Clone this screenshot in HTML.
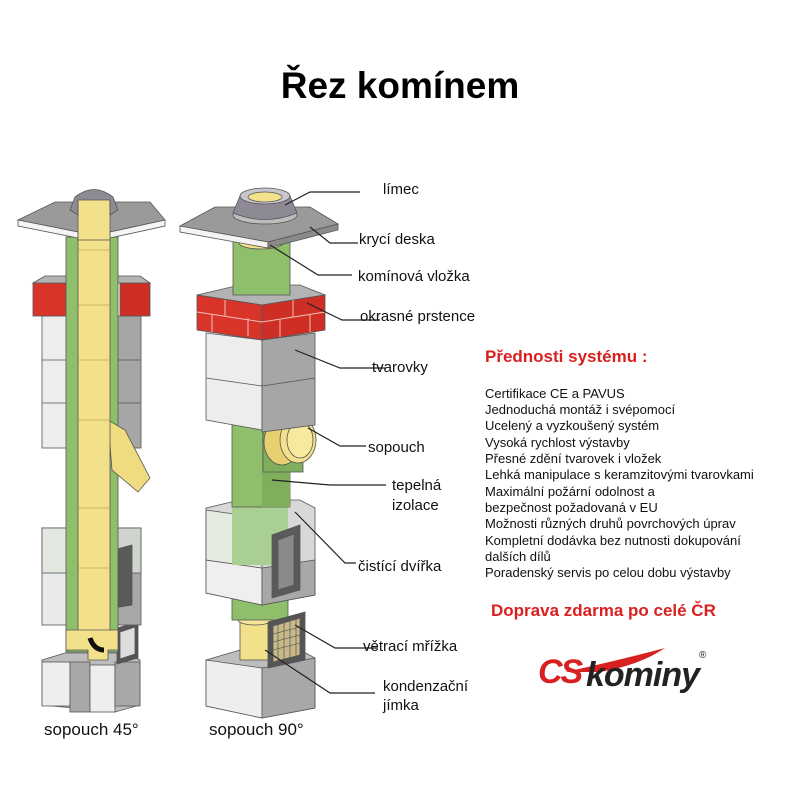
<!DOCTYPE html>
<html><head><meta charset="utf-8"><style>
html,body{margin:0;padding:0;background:#fff;}
svg{display:block;font-family:"Liberation Sans",sans-serif;}
</style></head><body>
<svg width="800" height="800" viewBox="0 0 800 800" xmlns="http://www.w3.org/2000/svg">
<text x="400" y="98" text-anchor="middle" font-size="37" font-weight="bold" fill="#000">Řez komínem</text>

<!-- RIGHT CHIMNEY (90°) -->
<g stroke="#555" stroke-width="0.8">
 <!-- bottom block -->
 <polygon points="206,660 240,650 300,650 315,658 315,708 262,718 206,706" fill="#bdbdbd"/>
 <polygon points="206,660 262,668 262,718 206,706" fill="#eeeeee"/>
 <polygon points="262,668 315,658 315,708 262,718" fill="#a8a8a8"/>
 <!-- condensate cylinder -->
 <rect x="240" y="618" width="30" height="42" fill="#f2e08a"/>
 <ellipse cx="255" cy="620" rx="17" ry="5" fill="#f6e69a"/>
 <!-- green pipe lower -->
 <rect x="232" y="595" width="56" height="25" fill="#8fbf6a"/>
 <!-- grid -->
 <polygon points="268,622 305,612 305,660 268,668" fill="#555"/>
 <polygon points="273,626 300,618 300,655 273,662" fill="#c9b98a"/>
 <g stroke="#444" stroke-width="0.6">
  <line x1="278" y1="624" x2="278" y2="661"/><line x1="284" y1="622" x2="284" y2="660"/><line x1="290" y1="621" x2="290" y2="658"/><line x1="296" y1="619" x2="296" y2="656"/>
  <line x1="273" y1="634" x2="300" y2="627"/><line x1="273" y1="642" x2="300" y2="635"/><line x1="273" y1="650" x2="300" y2="643"/>
 </g>
 <!-- middle block -->
 <polygon points="206,508 240,500 300,500 315,508 315,595 262,605 206,593" fill="#d8d8d8"/>
 <polygon points="206,560 262,568 262,605 206,593" fill="#efefef"/>
 <polygon points="262,568 315,560 315,595 262,605" fill="#a8a8a8"/>
 <polygon points="206,510 262,518 262,568 206,560" fill="#e4ebe0"/>
 <rect x="232" y="505" width="56" height="60" fill="#a9cf92" stroke="none"/>
 <!-- door -->
 <polygon points="272,535 300,525 300,590 272,598" fill="#5a5a5a"/>
 <polygon points="278,540 294,534 294,585 278,590" fill="#8a8a8a"/>
 <!-- green pipe middle -->
 <rect x="232" y="425" width="58" height="82" fill="#8fbf6a"/>
 <rect x="262" y="425" width="28" height="82" fill="#7faf5c" stroke="none"/>
 <!-- sopouch -->
 <rect x="263" y="412" width="40" height="60" fill="#7faf5c"/>
 <ellipse cx="282" cy="442" rx="18" ry="23" fill="#e6d070"/>
 <ellipse cx="298" cy="440" rx="18" ry="23" fill="#f3e089"/>
 <ellipse cx="300" cy="440" rx="13" ry="18" fill="#f7ea9f"/>
 <!-- tvarovky block -->
 <polygon points="206,333 262,340 262,430 206,420" fill="#ededed"/>
 <polygon points="262,340 315,333 315,425 262,432" fill="#a6a6a6"/>
 <line x1="206" y1="378" x2="262" y2="386"/><line x1="262" y1="386" x2="315" y2="378"/>
 <!-- brick band -->
 <polygon points="197,295 240,285 300,285 325,295 262,305" fill="#b3b3b3"/>
 <polygon points="197,295 262,305 262,340 197,330" fill="#d9342a"/>
 <polygon points="262,305 325,295 325,330 262,340" fill="#cf2e24"/>
 <g stroke="#f0c0b8" stroke-width="1">
  <line x1="197" y1="312" x2="262" y2="322"/><line x1="262" y1="322" x2="325" y2="312"/>
  <line x1="225" y1="300" x2="225" y2="316"/><line x1="248" y1="318" x2="248" y2="336"/><line x1="212" y1="314" x2="212" y2="332"/>
  <line x1="293" y1="300" x2="293" y2="317"/><line x1="280" y1="320" x2="280" y2="337"/><line x1="310" y1="315" x2="310" y2="332"/>
 </g>
 <!-- green top -->
 <rect x="233" y="240" width="57" height="55" fill="#8fbf6a"/>
 <ellipse cx="261" cy="243" rx="22" ry="6" fill="#f2e08a"/>
 <!-- slab -->
 <polygon points="180,226 215,207 310,207 338,224 268,242" fill="#9a9a9a"/>
 <polygon points="180,226 268,242 268,248 180,232" fill="#f4f4f4"/>
 <polygon points="268,242 338,224 338,230 268,248" fill="#8a8a8a"/>
 <!-- collar -->
 <ellipse cx="265" cy="215" rx="32" ry="9" fill="#bdbdbd"/>
 <path d="M240,196 L290,196 L297,213 Q265,226 233,213 Z" fill="#8e8a95"/>
 <ellipse cx="265" cy="196" rx="25" ry="8" fill="#c9c5cf"/>
 <ellipse cx="265" cy="197" rx="17" ry="5" fill="#f3e28c"/>
</g>

<!-- LEFT CHIMNEY (45°) -->
<g stroke="#555" stroke-width="0.8">
 <!-- bottom block -->
 <polygon points="42,660 65,653 125,653 140,660 140,705 115,712 42,705" fill="#bdbdbd"/>
 <rect x="42" y="662" width="28" height="44" fill="#eeeeee"/>
 <rect x="70" y="662" width="20" height="50" fill="#a8a8a8"/>
 <rect x="90" y="665" width="25" height="47" fill="#eeeeee"/>
 <rect x="115" y="662" width="25" height="44" fill="#a8a8a8"/>
 <!-- grid -->
 <polygon points="117,628 138,622 138,658 117,664" fill="#555"/>
 <polygon points="120,632 135,627 135,654 120,659" fill="#ddd"/>
 <!-- lower blocks -->
 <rect x="42" y="528" width="31" height="97" fill="#eaeaea"/>
 <rect x="42" y="528" width="31" height="45" fill="#e2e8e0"/>
 <rect x="110" y="528" width="31" height="97" fill="#a8a8a8"/>
 <rect x="110" y="528" width="31" height="45" fill="#d0d4ce"/>
 <polygon points="113,550 132,545 132,605 113,608" fill="#5a5a5a"/>
 <!-- upper blocks -->
 <rect x="42" y="316" width="31" height="132" fill="#ededed"/>
 <line x1="42" y1="360" x2="73" y2="360"/><line x1="42" y1="403" x2="73" y2="403"/>
 <rect x="110" y="316" width="31" height="132" fill="#a6a6a6"/>
 <line x1="110" y1="360" x2="141" y2="360"/><line x1="110" y1="403" x2="141" y2="403"/>
 <!-- bricks -->
 <rect x="33" y="283" width="40" height="33" fill="#d9342a"/>
 <rect x="120" y="283" width="30" height="33" fill="#cf2e24"/>
 <polygon points="33,283 45,276 73,276 73,283" fill="#b3b3b3"/>
 <polygon points="110,276 140,276 150,283 110,283" fill="#b3b3b3"/>
 <!-- green -->
 <rect x="66" y="237" width="52" height="415" fill="#8fbf6a"/>
 <!-- 45° branch -->
 <polygon points="108,420 125,430 150,478 138,492 112,470" fill="#f0dc80"/>
 <!-- yellow liner -->
 <rect x="78" y="195" width="32" height="440" fill="#f3e08a"/>
 <polygon points="66,630 118,630 118,650 108,650 108,660 88,660 88,650 66,650" fill="#f3e08a"/>
 <path d="M90,638 q4,12 14,12" stroke="#111" stroke-width="5" fill="none"/>
 <g stroke="#a09040" stroke-width="0.6">
  <line x1="78" y1="250" x2="110" y2="250"/><line x1="78" y1="305" x2="110" y2="305"/><line x1="78" y1="360" x2="110" y2="360"/><line x1="78" y1="420" x2="110" y2="420"/><line x1="78" y1="508" x2="110" y2="508"/><line x1="78" y1="568" x2="110" y2="568"/>
 </g>
 <!-- slab -->
 <polygon points="18,220 55,202 150,202 165,220 110,232 78,232" fill="#9a9a9a"/>
 <polygon points="18,220 78,232 78,238 18,226" fill="#f4f4f4"/>
 <polygon points="110,232 165,220 165,226 110,238" fill="#f4f4f4"/>
 <rect x="78" y="195" width="32" height="45" fill="#f3e08a"/>
 <path d="M75,197 Q94,182 113,197 L118,210 L110,215 L110,200 L78,200 L78,215 L70,210 Z" fill="#8e8a95"/>
</g>

<!-- Leader lines -->
<g stroke="#222" stroke-width="1.2" fill="none">
 <polyline points="285,205 310,192 360,192"/>
 <polyline points="310,227 330,243 358,243"/>
 <polyline points="270,245 318,275 352,275"/>
 <polyline points="307,303 342,320 380,320"/>
 <polyline points="295,350 340,368 386,368"/>
 <polyline points="308,428 340,446 366,446"/>
 <polyline points="272,480 330,485 386,485"/>
 <polyline points="295,512 345,563 356,563"/>
 <polyline points="295,625 335,648 378,648"/>
 <polyline points="265,650 330,693 375,693"/>
</g>
<g font-size="15" fill="#111">
 <text x="383" y="194">límec</text>
 <text x="359" y="244">krycí deska</text>
 <text x="358" y="281">komínová vložka</text>
 <text x="360" y="321">okrasné prstence</text>
 <text x="372" y="372">tvarovky</text>
 <text x="368" y="452">sopouch</text>
 <text x="392" y="490">tepelná</text>
 <text x="392" y="510">izolace</text>
 <text x="358" y="571">čistící dvířka</text>
 <text x="363" y="651">větrací mřížka</text>
 <text x="383" y="691">kondenzační</text>
 <text x="383" y="710">jímka</text>
 <text x="44" y="735" font-size="17">sopouch 45°</text>
 <text x="209" y="735" font-size="17">sopouch 90°</text>
</g>

<text x="485" y="362" font-size="17" font-weight="bold" fill="#d92020">Přednosti systému :</text>
<g font-size="13" fill="#111">
 <text x="485" y="398">Certifikace CE a PAVUS</text>
 <text x="485" y="414">Jednoduchá montáž i svépomocí</text>
 <text x="485" y="430">Ucelený a vyzkoušený systém</text>
 <text x="485" y="447">Vysoká rychlost výstavby</text>
 <text x="485" y="463">Přesné zdění tvarovek i vložek</text>
 <text x="485" y="479">Lehká manipulace s keramzitovými tvarovkami</text>
 <text x="485" y="496">Maximální požární odolnost a</text>
 <text x="485" y="512">bezpečnost požadovaná v EU</text>
 <text x="485" y="528">Možnosti různých druhů povrchových úprav</text>
 <text x="485" y="545">Kompletní dodávka bez nutnosti dokupování</text>
 <text x="485" y="561">dalších dílů</text>
 <text x="485" y="577">Poradenský servis po celou dobu výstavby</text>
</g>
<text x="491" y="616" font-size="17" font-weight="bold" fill="#d92020">Doprava zdarma po celé ČR</text>

<!-- logo -->
<path d="M565,672 Q620,660 665,648 Q640,665 600,672 Z" fill="#d92020"/>
<text x="538" y="683" font-size="34" font-weight="bold" font-style="italic" fill="#d92020" letter-spacing="-2">CS</text>
<text x="586" y="686" font-size="34" font-weight="bold" font-style="italic" fill="#222" letter-spacing="-1">kominy</text>
<text x="699" y="658" font-size="10" fill="#222">®</text>
</svg>
</body></html>
